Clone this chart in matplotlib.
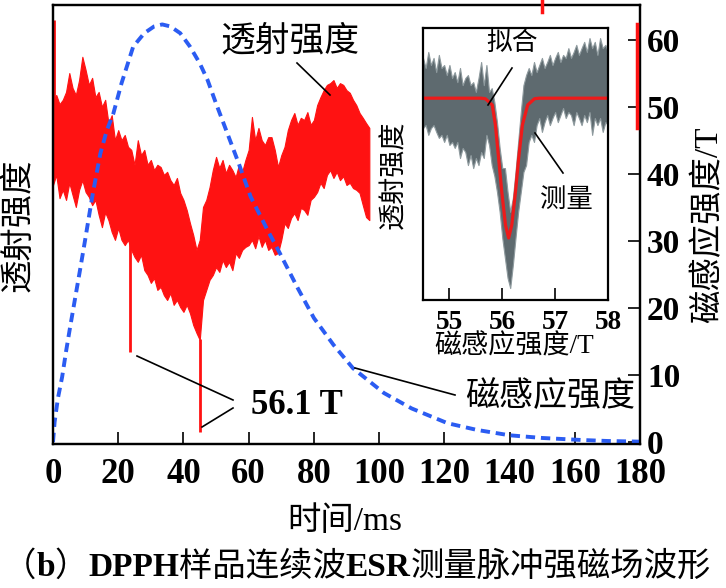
import matplotlib
matplotlib.use('Agg')
import matplotlib.pyplot as plt
from matplotlib.lines import Line2D

plt.rcParams['font.family'] = ['Liberation Serif', 'Noto Sans CJK SC']

# ---------------- data ----------------
time_ms = list(range(0, 98))
trans_upper = [78.4, 79.5, 77.4, 78.4, 80.2, 84.5, 81.1, 79.5, 82.9, 88.2,
               85.2, 81.8, 83.4, 79.0, 80.2, 76.8, 78.4, 73.1, 74.9, 69.2,
               71.5, 69.2, 70.4, 67.7, 67.0, 63.6, 69.2, 65.8, 67.0, 63.6,
               64.7, 62.4, 63.6, 63.1, 61.3, 62.0, 60.1, 59.0, 60.6, 57.2,
               55.6, 53.3, 50.3, 47.6, 44.2, 46.5, 54.0, 55.6, 58.5, 62.4,
               65.4, 62.9, 64.7, 61.7, 63.6, 62.4, 60.8, 63.6, 62.0, 64.7,
               67.0, 74.5, 69.2, 72.0, 69.2, 68.1, 69.9, 69.9, 67.0, 63.1,
               65.8, 67.7, 71.5, 73.8, 75.4, 72.7, 74.3, 73.8, 75.6, 72.7,
               73.8, 77.2, 79.0, 80.6, 81.8, 82.2, 82.9, 81.1, 82.2, 81.8,
               80.6, 80.0, 78.4, 77.2, 75.4, 74.3, 73.1, 72.0]
trans_lower = [59.0, 61.3, 56.0, 57.9, 55.6, 59.5, 56.7, 54.0, 57.9, 60.1,
               57.4, 56.3, 54.4, 55.6, 52.2, 49.4, 52.8, 51.0, 48.3, 46.5,
               49.2, 46.5, 45.3, 46.5, 44.2, 42.6, 41.5, 43.1, 39.6, 38.5,
               36.7, 37.8, 35.1, 35.8, 33.9, 32.8, 34.4, 31.7, 32.8, 31.2,
               30.1, 31.7, 29.8, 27.1, 25.3, 23.7, 32.8, 35.1, 37.4, 38.5,
               40.3, 39.2, 41.9, 40.3, 41.5, 39.6, 43.5, 42.4, 44.2, 44.9,
               45.3, 46.5, 44.6, 47.4, 44.9, 46.5, 44.2, 44.9, 43.1, 43.5,
               46.5, 50.3, 49.2, 51.5, 52.6, 51.0, 53.8, 53.3, 52.2, 55.6,
               56.3, 57.4, 59.5, 58.3, 61.3, 62.4, 60.6, 62.0, 60.1, 61.0,
               59.0, 59.5, 58.3, 57.9, 57.2, 54.4, 51.7, 51.0]
spike_t = [0.3, 23.6, 45.2]
spike_from = [78.0, 46.0, 24.0]
spike_to = [96.6, 21.0, 2.7]

field_t = [0, 0.5, 1.5, 2.8, 4, 5.2, 6.8, 8.3, 9.8, 12, 14.5, 16.5, 18.5, 21,
           24.6, 28, 31, 33.5, 36, 39, 42, 45, 47.4, 50, 53.5, 57, 60.6, 65.8,
           69, 75, 80, 86, 92, 101.5, 110, 121, 130, 140, 150, 162, 170, 180]
field_T = [0, 3, 6.5, 9.7, 13.5, 17, 21.5, 25.7, 30, 36.5, 43, 46.5, 49, 53.5,
           59, 61, 62, 62.3, 62, 61, 59, 56.5, 54, 50.5, 46, 41.5, 36.6, 31.6,
           28.7, 23, 18.5, 14.5, 11, 7.3, 5, 2.8, 1.8, 1.0, 0.6, 0.3, 0.15, 0.05]

inset_B = [round(54.5 + 0.05 * i, 2) for i in range(71)]
inset_upper = [89.0, 85.3, 91.2, 86.4, 89.0, 83.8, 90.1, 85.3, 86.4, 82.7,
               86.4, 81.6, 83.8, 80.1, 85.3, 79.0, 81.6, 82.7, 79.0, 80.1,
               76.5, 81.6, 87.5, 79.0, 86.4, 76.5, 77.9, 72.8, 65.4, 55.9,
               48.5, 48.5, 39.7, 32.4, 37.5, 47.1, 58.1, 69.1, 79.0, 82.7,
               85.3, 82.7, 87.5, 83.8, 86.4, 89.0, 85.3, 87.5, 90.1, 86.4,
               89.0, 91.2, 87.5, 90.1, 89.0, 92.6, 89.0, 91.2, 93.8, 90.1,
               92.6, 94.9, 91.2, 96.3, 92.6, 94.9, 90.1, 96.3, 92.6, 93.8, 91.2]
inset_lower = [63.2, 64.3, 60.7, 63.2, 64.3, 61.8, 59.6, 60.7, 58.1, 60.7,
               57.0, 58.1, 55.9, 58.1, 52.2, 55.9, 54.4, 49.6, 53.3, 48.5,
               52.2, 49.6, 54.4, 52.2, 60.7, 57.0, 49.6, 45.6, 39.7, 32.4,
               22.8, 15.4, 8.1, 4.4, 12.9, 22.8, 32.4, 39.7, 47.1, 49.6,
               58.1, 60.7, 58.1, 64.3, 66.9, 61.8, 65.4, 68.0, 64.3, 66.9,
               69.1, 65.4, 68.0, 70.6, 66.9, 69.1, 68.0, 64.3, 69.1, 66.9,
               64.3, 68.0, 65.4, 69.1, 60.7, 66.9, 64.3, 66.9, 61.8, 65.4, 64.3]
fit_B = [54.5, 55.6, 55.68, 55.81, 55.87, 55.93, 55.99, 56.06, 56.12, 56.18,
         56.25, 56.31, 56.38, 56.48, 56.61, 56.7, 58.0]
fit_v = [74.2, 74.2, 74.0, 71.7, 64.3, 52.2, 39.8, 27.6, 22.8, 27.6,
         39.8, 52.2, 64.3, 71.7, 74.0, 74.2, 74.2]

time_ticks = list(range(0, 181, 20))
field_ticks = list(range(0, 61, 10))
inset_ticks = [55, 56, 57, 58]

caption_parts = ['（', 'b', '）', 'DPPH', '样品连续波', 'ESR', '测量脉冲强磁场波形']
caption_bold = [False, True, False, True, False, True, False]

# ---------------- layout helpers ----------------
W, H = 726, 588
fig = plt.figure(figsize=(W / 100, H / 100), dpi=100)


def fx(x):
    return x / W


def fy(y):
    return 1 - y / H


RED = '#ff1212'
BLUE = '#2b5cf2'
CJK = ['Liberation Serif', 'Noto Sans CJK SC']

ax = fig.add_axes([fx(53), fy(444), fx(640) - fx(53), fy(5) - fy(444)])
ax2 = ax.twinx()

# transmission trace
ax.fill_between(time_ms, trans_lower, trans_upper, color=RED, lw=0.8,
                edgecolor=RED)
ax.vlines(spike_t, spike_from, spike_to, color=RED, lw=2.0)
ax.set_xlim(0, 180)
ax.set_ylim(0, 100)
ax.set_yticks([])
ax.set_xticks(time_ticks)
ax.tick_params(axis='x', direction='in', length=8.6, width=1.2,
               labelsize=25, pad=10)
for lb in ax.get_xticklabels():
    lb.set_fontweight('bold')

# magnetic field
ax2.plot(field_t, field_T, color=BLUE, lw=2.8, ls=(0, (2.4, 1.5)))
ax2.set_ylim(-0.3, 65.2)
ax2.set_yticks(field_ticks)
ax2.tick_params(axis='y', direction='in', length=8.6, width=1.2,
                labelsize=24, pad=5)
for lb in ax2.get_yticklabels():
    lb.set_fontweight('bold')

for a in (ax, ax2):
    for s in a.spines.values():
        s.set_linewidth(1.6)

# ---------------- inset ----------------
axin = fig.add_axes([fx(423), fy(300), fx(608) - fx(423), fy(28) - fy(300)])
axin.set_zorder(5)
axin.fill_between(inset_B, inset_lower, inset_upper, color='#5e6a6f',
                  edgecolor='#8e9a9e', lw=0.8)
axin.plot(fit_B, fit_v, color='#ee1a1a', lw=2.3)
axin.set_xlim(54.5, 58)
axin.set_ylim(0, 100)
axin.set_yticks([])
axin.set_xticks(inset_ticks)
axin.tick_params(axis='x', direction='in', length=8.5, width=1.2,
                 labelsize=19.5, pad=7)
for lb in axin.get_xticklabels():
    lb.set_fontweight('bold')
for s in axin.spines.values():
    s.set_linewidth(1.6)


# ---------------- texts ----------------
def ftext(x, y, s, size, **kw):
    return fig.text(fx(x), fy(y), s, fontsize=size, family=CJK, ha='center',
                    va='center', **kw)


ftext(290, 42, '透射强度', 25)
ftext(550, 397, '磁感应强度', 24.5)
fig.text(fx(297), fy(414), '56.1 T', fontsize=25, family=CJK,
         fontweight='bold', ha='center', va='baseline')
ftext(512, 43, '拟合', 18.5, zorder=10)
ftext(566, 200, '测量', 19, zorder=10)
ftext(345, 522, '时间/ms', 24)
ftext(19, 225, '透射强度', 24, rotation=90)
ftext(708, 225, '磁感应强度/T', 24, rotation=90)
ftext(395, 175, '透射强度', 19.5, rotation=90)
ftext(514, 347, '磁感应强度/T', 19.5)

# caption: Latin parts bold, CJK parts regular, laid out side by side
renderer = fig.canvas.get_renderer()
cap_texts = []
widths = []
for s, b in zip(caption_parts, caption_bold):
    t = fig.text(0, fy(576), s, fontsize=24.0, family=CJK,
                 fontweight='bold' if b else 'normal', ha='left',
                 va='baseline')
    cap_texts.append(t)
    widths.append(t.get_window_extent(renderer).width)
x = 357 - sum(widths) / 2
for t, w in zip(cap_texts, widths):
    t.set_x(fx(x))
    x += w


def fline(x0, y0, x1, y1, color='black', lw=1.2):
    fig.add_artist(Line2D([fx(x0), fx(x1)], [fy(y0), fy(y1)], color=color,
                          lw=lw, zorder=10))


fline(297, 63, 330, 95)
fline(137, 356, 233, 400)
fline(202, 427, 233, 408)
fline(355, 368, 455, 395)
fline(512, 68, 488, 105)
fline(535, 133, 563, 173)
# small red fragments at the top and right border
fline(636.5, 24, 636.5, 128, color=RED, lw=2.5)
fline(541.5, 0, 541.5, 12, color=RED, lw=2.5)

fig.savefig('out.png', dpi=100)
